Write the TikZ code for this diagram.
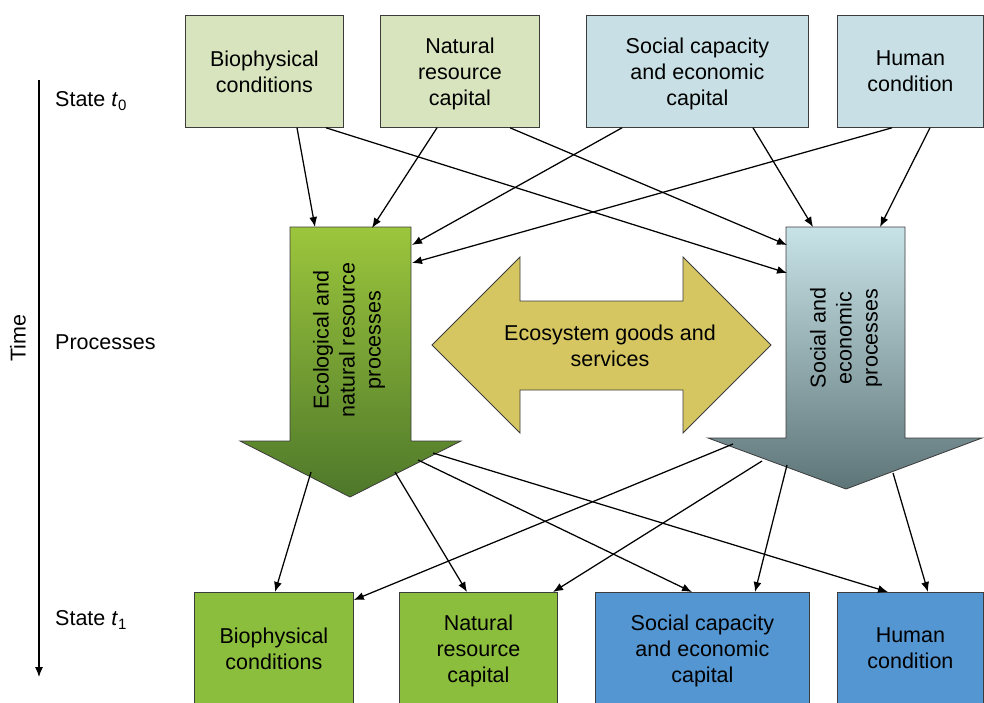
\documentclass[tikz,border=0pt]{standalone}
\usepackage{fontspec}
\setmainfont{Liberation Sans}
\usetikzlibrary{arrows.meta,calc}
\definecolor{topgreen}{RGB}{215,228,189}
\definecolor{topblue}{RGB}{200,224,229}
\definecolor{botgreen}{RGB}{140,190,62}
\definecolor{botblue}{RGB}{84,150,209}
\definecolor{goods}{RGB}{213,198,98}
\definecolor{edgegrey}{RGB}{60,60,60}
\definecolor{gtop}{RGB}{156,198,60}
\definecolor{gbot}{RGB}{78,120,42}
\definecolor{btop}{RGB}{200,227,232}
\definecolor{bbot}{RGB}{94,117,120}
\begin{document}
\begin{tikzpicture}[x=1pt,y=-1pt,
  txt/.style={font=\fontsize{21.5}{26}\selectfont, align=center},
  box/.style={txt, draw=edgegrey, line width=0.8pt, anchor=north west, inner sep=0pt, minimum height=112pt},
  three/.style={text depth=0pt},
  lbl/.style={txt, anchor=west, inner sep=0pt},
  conn/.style={line width=1.25pt, -{Latex[length=10pt,width=8pt]}},
  bigarrow/.style={draw=edgegrey, line width=0.8pt, line join=miter},
]
\useasboundingbox (0,0) rectangle (984,702);
\clip (0,0) rectangle (984,702);

% time axis
\coordinate (tstart) at (39,80);
\coordinate (tend) at (39,677);
\draw[line width=1.1pt, -{Latex[length=10pt,width=8pt]}] (tstart) -- (tend);
\node[txt, rotate=90, inner sep=0pt] (time) at (18,338) {Time};
\node[lbl] (s0) at (55,101) {State \textit{t}\raisebox{-0.3ex}{\fontsize{15}{15}\selectfont 0}};
\node[lbl] (pr) at (55,342) {Processes};
\node[lbl] (s1) at (55,620) {State \textit{t}\raisebox{-0.3ex}{\fontsize{15}{15}\selectfont 1}};

% state t0 boxes
\node[box, fill=topgreen, minimum width=158pt] (tb) at (185,15) {Biophysical\\conditions};
\node[box, three, fill=topgreen, minimum width=159pt] (tn) at (380,15) {Natural\\resource\\capital};
\node[box, three, fill=topblue, minimum width=222pt] (ts) at (586,15) {Social capacity\\and economic\\capital};
\node[box, fill=topblue, minimum width=146pt] (th) at (837,15) {Human\\condition};

% state t1 boxes
\node[box, fill=botgreen, minimum width=159pt] (bb) at (194,592) {Biophysical\\conditions};
\node[box, three, fill=botgreen, minimum width=158pt] (bn) at (399,592) {Natural\\resource\\capital};
\node[box, three, fill=botblue, minimum width=214pt] (bs) at (595,592) {Social capacity\\and economic\\capital};
\node[box, fill=botblue, minimum width=146pt] (bh) at (837,592) {Human\\condition};

% process arrows
\path[bigarrow, top color=gtop, bottom color=gbot]
  (290,227) -- (411,227) -- (411,441) -- (461,441) -- (350,497) -- (240,441) -- (290,441) -- cycle;
\node[txt, rotate=90] (eco) at (349,340) {Ecological and\\natural resource\\processes};

\path[bigarrow, top color=btop, bottom color=bbot]
  (786,227) -- (905,227) -- (905,438) -- (982,438) -- (846,489) -- (708,438) -- (786,438) -- cycle;
\node[txt, rotate=90] (soc) at (846,338) {Social and\\economic\\processes};

\path[bigarrow, fill=goods]
  (432,345) -- (520,257) -- (520,301) -- (683,301) -- (683,257) -- (771,345)
  -- (683,433) -- (683,390) -- (520,390) -- (520,433) -- cycle;
\node[txt] (goodsl) at (610,346) {Ecosystem goods and\\services};

% connector end points on the process arrows
\coordinate (p1) at (315,227);
\coordinate (p2) at (372,228);
\coordinate (p3) at (412,245);
\coordinate (p4) at (412,263);
\coordinate (q1) at (813,227);
\coordinate (q2) at (880,227);
\coordinate (q3) at (787,245);
\coordinate (q4) at (787,273);
\coordinate (e1) at (311,472);
\coordinate (e2) at (395,472);
\coordinate (e3) at (418,460);
\coordinate (e4) at (433,453);
\coordinate (e5) at (733,444);
\coordinate (e6) at (762,461);
\coordinate (e7) at (787,465);
\coordinate (e8) at (893,473);

% state t0 -> processes
\draw[conn] ([xshift=112pt]tb.south west) -- (p1);
\draw[conn] ([xshift=141pt]tb.south west) -- (q4);
\draw[conn] ([xshift=57pt]tn.south west) -- (p2);
\draw[conn] ([xshift=130pt]tn.south west) -- (q3);
\draw[conn] ([xshift=36pt]ts.south west) -- (p3);
\draw[conn] ([xshift=167pt]ts.south west) -- (q1);
\draw[conn] ([xshift=55pt]th.south west) -- (p4);
\draw[conn] ([xshift=93pt]th.south west) -- (q2);

% processes -> state t1
\draw[conn] (e1) -- ([xshift=81pt]bb.north west);
\draw[conn] (e2) -- ([xshift=68pt]bn.north west);
\draw[conn] (e3) -- ([xshift=97pt]bs.north west);
\draw[conn] (e4) -- ([xshift=51pt]bh.north west);
\draw[conn] (e5) -- ([yshift=-8pt]bb.north east);
\draw[conn] (e6) -- ([xshift=154pt]bn.north west);
\draw[conn] (e7) -- ([xshift=160pt]bs.north west);
\draw[conn] (e8) -- ([xshift=91pt]bh.north west);
\end{tikzpicture}
\end{document}
